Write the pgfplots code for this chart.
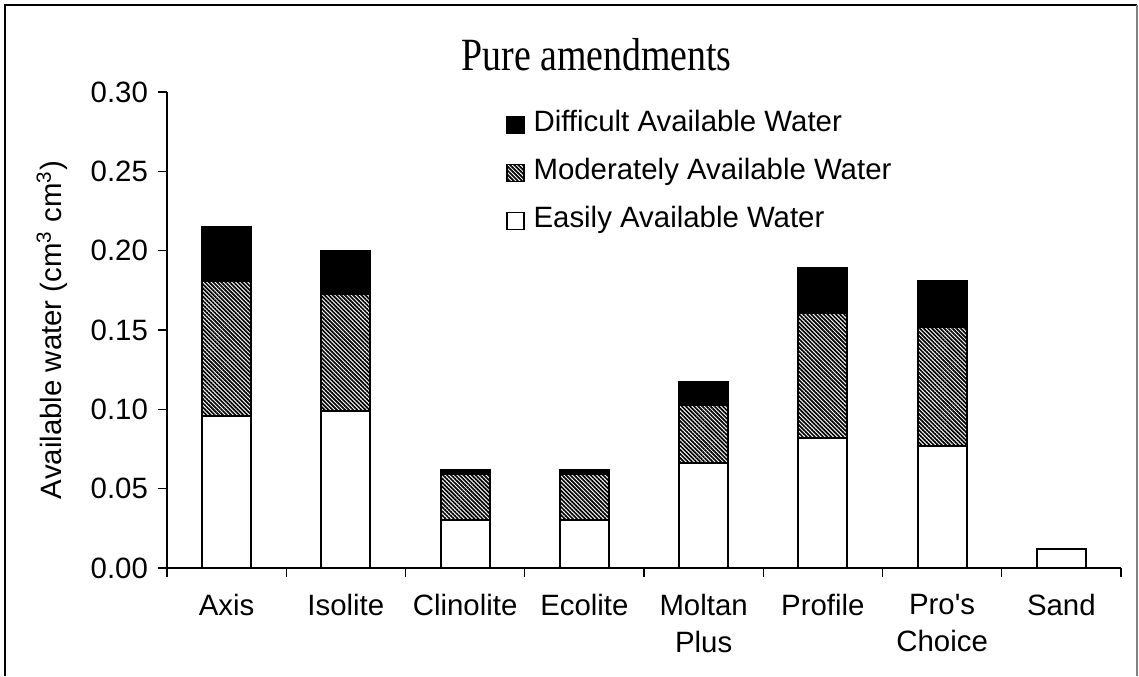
\documentclass[border=0pt]{standalone}
\usepackage{graphicx}
\usepackage{pgfplots}
\pgfplotsset{compat=1.18}
\usepackage{pgfplotstable}
\usepackage{fontspec}
\setmainfont{Liberation Sans}[Ligatures=TeXOff]
\newfontfamily\titlefont{Liberation Serif}
\usetikzlibrary{patterns.meta}

\pgfplotstableread{
x easy mod diff
0 0.096 0.085 0.034
1 0.099 0.074 0.027
2 0.030 0.0295 0.0025
3 0.030 0.0295 0.0025
4 0.066 0.037 0.0145
5 0.082 0.079 0.028
6 0.077 0.075 0.029
7 0.012 0 0
}\datatable

\newcommand{\fs}{\fontsize{14.7}{18.5}\selectfont}

\begin{document}
\begin{tikzpicture}
\useasboundingbox (0,0) rectangle (569.5pt,-338pt);
\draw[black, line width=1pt] (2.5pt,-338pt) -- (2.5pt,-2.25pt) -- (568.5pt,-2.25pt);
\draw[gray, line width=1pt] (568.5pt,-2.25pt) -- (568.5pt,-338pt);
\node at (298.25pt,-27.5pt) {\scalebox{0.86}[1.05]{\titlefont\fontsize{22}{26}\selectfont Pure amendments}};
\begin{axis}[
  at={(83.5pt,-284pt)}, anchor=south west,
  scale only axis, width=477pt, height=238pt,
  xmin=-0.5, xmax=7.5, ymin=0, ymax=0.30,
  ybar stacked, bar width=24.5pt,
  axis x line*=bottom, axis y line*=left,
  axis line style={-, line width=0.6pt},
  xtick={-0.5,0.5,...,7.5},
  xticklabels={},
  extra x ticks={0,1,2,3,4,5,6,7},
  extra x tick labels={Axis,Isolite,Clinolite,Ecolite,Moltan\\Plus,Profile,Pro's\\Choice,Sand},
  extra x tick style={tick style={draw=none}, xticklabel style={align=center, font=\fs, yshift=-5pt}},
  ytick={0,0.05,0.1,0.15,0.2,0.25,0.3},
  yticklabel style={font=\fs, xshift=-1.5pt, /pgf/number format/.cd, fixed, fixed zerofill, precision=2, assume math mode=true},
  tick align=outside, major tick length=4.5pt,
  tick style={black, line width=0.6pt},
  ylabel={Available water (cm\textsuperscript{3} cm\textsuperscript{3})},
  ylabel style={at={(axis description cs:-0.1205,0.5)}, anchor=center, font=\fs},
  reverse legend,
  legend cell align=left,
  legend image code/.code={\draw[#1, line width=0.6pt] (0pt,-4.25pt) rectangle (8.5pt,4.25pt);},
  legend style={draw=none, fill=none, at={(axis description cs:0.3553,0.968)}, anchor=north west,
    inner sep=0pt, row sep=7pt, font=\fs,
    nodes={inner sep=2pt, text height=10pt, text depth=3pt},
    /tikz/every odd column/.append style={column sep=2.5pt}},
]
\addplot[fill=white, draw=black, line width=1pt] table[x=x, y=easy] {\datatable};
\addlegendentry{Easily Available Water}
\addplot[pattern={Lines[angle=-45,distance=1.45pt,line width=0.85pt]}, pattern color=black, draw=black, line width=1pt] table[x=x, y=mod] {\datatable};
\addlegendentry{Moderately Available Water}
\addplot[fill=black, draw=black, line width=1pt] table[x=x, y=diff] {\datatable};
\addlegendentry{Difficult Available Water}
\end{axis}
\end{tikzpicture}
\end{document}
